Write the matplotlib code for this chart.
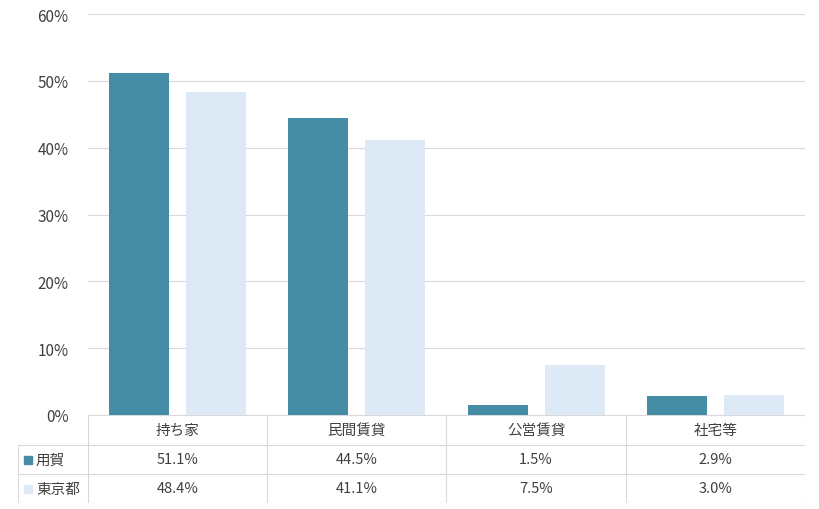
import matplotlib
matplotlib.use("Agg")
import matplotlib.pyplot as plt
import numpy as np

plt.rcParams['font.family'] = ['Noto Sans CJK JP', 'DejaVu Sans']

categories = ['持ち家', '民間賃貸', '公営賃貸', '社宅等']
series_names = ['用賀', '東京都']
yoga = [51.1, 44.5, 1.5, 2.9]
tokyo = [48.4, 41.1, 7.5, 3.0]
colors = ['#458DA5', '#DDE9F5']
text_col = '#404040'
line_col = '#D9D9D9'

fig = plt.figure(figsize=(8.2, 5.1), dpi=100)
ax = fig.add_axes([88/820, 94/510, 717/820, 401/510])

x = np.arange(len(categories))
ax.bar(x - 0.215, yoga, width=0.335, color=colors[0])
ax.bar(x + 0.215, tokyo, width=0.335, color=colors[1])
ax.set_xlim(-0.5, len(categories) - 0.5)
ax.set_ylim(0, 60)
ax.set_yticks(range(0, 61, 10))
ax.set_yticklabels([f'{v}%' for v in range(0, 61, 10)], fontsize=11, color=text_col)
ax.set_xticks([])
ax.yaxis.grid(True, color=line_col, lw=0.8)
ax.set_axisbelow(True)
for s in ax.spines.values():
    s.set_visible(False)
ax.tick_params(axis='y', length=0, pad=14)

# data table
tx0, tx1 = 18, 805
tab = fig.add_axes([tx0/820, 6/510, (tx1-tx0)/820, 88/510])
tab.set_xlim(tx0, tx1)
tab.set_ylim(504, 416)
tab.axis('off')
left = 88
cw = (tx1 - left) / len(categories)
rows = [416, 446, 475, 504]
kw = dict(color=line_col, lw=0.8)
tab.plot([left, tx1], [416, 416], **kw)
for r in rows[1:]:
    tab.plot([tx0, tx1], [r, r], **kw)
tab.plot([tx0, tx0], [446, 504], **kw)
for i in range(len(categories) + 1):
    tab.plot([left + i*cw]*2, [416, 504], **kw)
for i, c in enumerate(categories):
    cx = left + (i + 0.5) * cw
    tab.text(cx, 431, c, ha='center', va='center', fontsize=10.5, color=text_col)
    tab.text(cx, 460.5, f'{yoga[i]:.1f}%', ha='center', va='center', fontsize=10.5, color=text_col)
    tab.text(cx, 489.5, f'{tokyo[i]:.1f}%', ha='center', va='center', fontsize=10.5, color=text_col)
for j, (name, col) in enumerate(zip(series_names, colors)):
    cy = 460.5 + j * 29
    tab.add_patch(plt.Rectangle((24, cy - 4), 8, 8, color=col))
    tab.text(36, cy, name, ha='left', va='center', fontsize=10.5, color=text_col)

fig.savefig('out.png', dpi=100)
